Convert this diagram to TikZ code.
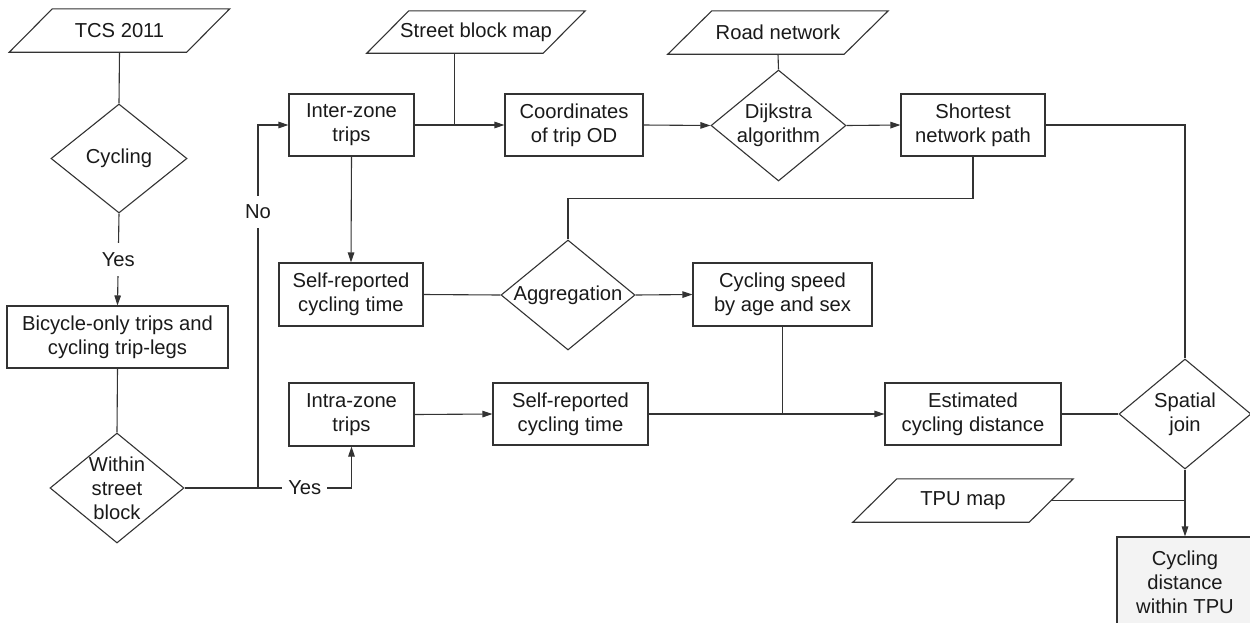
\documentclass[tikz,border=0pt]{standalone}
\usepackage{fontspec}
\setmainfont{Liberation Sans}
\usetikzlibrary{shapes.geometric,arrows.meta}
\definecolor{lc}{HTML}{333333}
\definecolor{tc}{HTML}{1A1A1A}
\definecolor{resfill}{HTML}{F3F3F3}
\newcommand\tf{\fontsize{20.2}{24}\selectfont}
\newcommand\drawpara[2]{\draw[shp] ([xshift=#2]#1.north west) -- (#1.north east) -- ([xshift=-#2]#1.south east) -- (#1.south west) -- cycle;}
\tikzset{
  shp/.style={draw=lc, line width=1.1pt},
  box/.style={shp, rectangle, inner sep=0pt, align=center, font=\tf, text=tc},
  dia/.style={shp, diamond, inner sep=0pt},
  dlab/.style={align=center, font=\tf, text=tc, inner sep=0pt},
  para/.style={rectangle, inner sep=0pt, align=center, font=\tf, text=tc, minimum width=220pt, minimum height=43pt},
  con/.style={draw=lc, line width=1.1pt},
  arr/.style={con, -{Triangle[length=10pt,width=6.5pt]}},
  lbl/.style={fill=white, font=\tf, text=tc, inner xsep=6pt, inner ysep=9pt}
}
\begin{document}
\begin{tikzpicture}[x=1pt, y=-1pt]
\useasboundingbox (0,0) rectangle (1250,622);
\clip (0,0) rectangle (1250,622);
\fill[white] (0,0) rectangle (1250,622);

% data inputs
\node[para] (tcs) at (119.5,30.5) {TCS 2011};
\drawpara{tcs}{43pt}
\node[para, minimum width=218pt, minimum height=42pt] (street) at (476,32) {Street block map};
\drawpara{street}{42pt}
\node[para] (road) at (778,32.5) {Road network};
\drawpara{road}{44pt}
\node[para] (tpu) at (963,500.5) {TPU map};
\drawpara{tpu}{44pt}

% decisions
\node[dia, minimum width=136pt, minimum height=109pt, label={[dlab]center:Cycling}] (cyc) at (119,158.5) {};
\node[dia, minimum width=134pt, minimum height=110pt, label={[dlab]center:{Within\\street\\block}}] (within) at (117,488) {};
\node[dia, minimum width=135pt, minimum height=111pt, label={[dlab]center:{Dijkstra\\algorithm}}] (dijk) at (778.5,125.5) {};
\node[dia, minimum width=134pt, minimum height=110pt, label={[dlab]center:Aggregation}] (agg) at (568,295) {};
\node[dia, minimum width=132pt, minimum height=110pt, label={[dlab]center:{Spatial\\join}}] (spatial) at (1185,414) {};

% processes
\node[box, minimum width=221pt, minimum height=62pt] (bike) at (117.5,337) {Bicycle-only trips and\\cycling trip-legs};
\node[box, minimum width=125pt, minimum height=62pt] (inter) at (351.5,125) {Inter-zone\\trips};
\node[box, minimum width=144pt, minimum height=63pt] (self1) at (351,294.5) {Self-reported\\cycling time};
\node[box, minimum width=125pt, minimum height=63pt] (intra) at (351.5,414.5) {Intra-zone\\trips};
\node[box, minimum width=138pt, minimum height=62pt] (coord) at (574,125) {Coordinates\\of trip OD};
\node[box, minimum width=144pt, minimum height=62pt] (short) at (973,125) {Shortest\\network path};
\node[box, minimum width=179pt, minimum height=63pt] (speed) at (782.5,294.5) {Cycling speed\\by age and sex};
\node[box, minimum width=155pt, minimum height=62pt] (self2) at (570.5,414) {Self-reported\\cycling time};
\node[box, minimum width=176pt, minimum height=62pt] (est) at (973,414) {Estimated\\cycling distance};
\node[box, fill=resfill, minimum width=136pt, minimum height=90pt] (res) at (1185,582) {Cycling\\distance\\within TPU};

% connectors
\draw[con] (tcs.south) -- (cyc.north);
\draw[arr] (cyc.south) -- node[lbl] {Yes} (bike.north);
\draw[con] (bike.south) -- (within.north);
\draw[con] (within.east) -- (258,488) coordinate (j1);
\draw[arr] (j1) -- node[lbl, pos=0.76] {No} (j1 |- inter.west) -- (inter.west);
\draw[arr] (j1) -- node[lbl, pos=0.5] {Yes} (intra.south |- j1) -- (intra.south);
\draw[arr] (inter.south) -- (self1.north);
\draw[arr] (inter.east) -- (coord.west);
\draw[con] ([xshift=-21.5pt]street.south) -- ([xshift=-21.5pt]street.south |- inter.east);
\draw[arr] (coord.east) -- (dijk.west);
\draw[con] (road.south) -- (dijk.north);
\draw[arr] (dijk.east) -- (short.west);
\draw[con] (short.east) -| (spatial.north);
\draw[con] (short.south) -- ++(0,42) -| (agg.north);
\draw[con] (self1.east) -- (agg.west);
\draw[arr] (agg.east) -- (speed.west);
\draw[arr] (intra.east) -- (self2.west);
\draw[arr] (self2.east) -- (est.west);
\draw[con] (speed.south) -- (speed.south |- self2.east);
\draw[con] (est.east) -- (spatial.west);
\draw[arr] (spatial.south) -- (res.north);
\draw[con] ([xshift=-22pt]tpu.east) -- (spatial.south |- tpu.east);
\end{tikzpicture}
\end{document}
